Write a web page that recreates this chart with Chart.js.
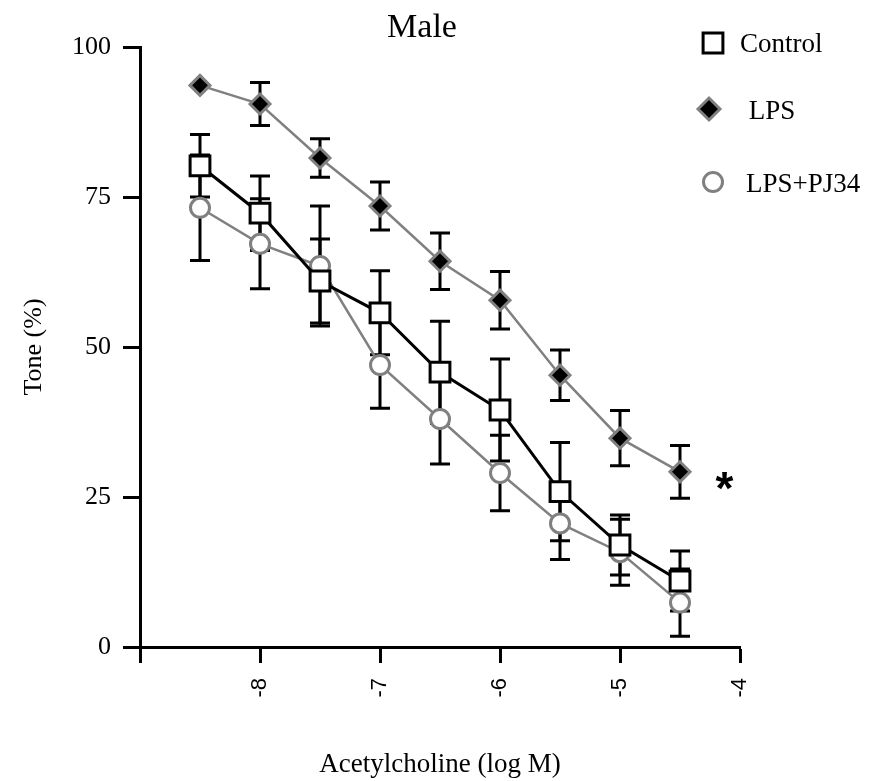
<!DOCTYPE html>
<html>
<head>
<meta charset="utf-8">
<title>Male - Acetylcholine response</title>
<script src="https://cdn.jsdelivr.net/npm/chart.js@4.4.0/dist/chart.umd.min.js"></script>
<style>
  html, body { margin: 0; padding: 0; background: #fff; }
  #chart { display: block; }
</style>
</head>
<body>
<canvas id="chart" width="871" height="781"></canvas>
<script>
const SERIF = "'Liberation Serif', 'Times New Roman', serif";
const SANS = "'Liberation Sans', Arial, sans-serif";
const GREY = '#808080';

// --- Data ---
const doses = [-8.5, -8, -7.5, -7, -6.5, -6, -5.5, -5, -4.5];
const controlMean = [80.2, 72.3, 61, 55.7, 45.8, 39.5, 25.9, 17, 11];
const controlSem  = [5.2, 6.2, 7, 7, 8.5, 8.5, 8.2, 5, 5];
const lpsMean = [93.6, 90.5, 81.5, 73.5, 64.3, 57.8, 45.3, 34.8, 29.2];
const lpsSem  = [0, 3.6, 3.2, 4, 4.7, 4.8, 4.2, 4.6, 4.4];
const pj34Mean = [73.2, 67.2, 63.5, 47, 38, 29, 20.6, 15.8, 7.4];
const pj34Sem  = [8.8, 7.5, 10, 7.2, 7.5, 6.3, 6, 5.5, 5.6];

const seriesNames = ['Control', ' LPS', 'LPS+PJ34'];
const xTicks = [-9, -8, -7, -6, -5, -4];
const yTicks = [0, 25, 50, 75, 100];
const chartTitle = 'Male';
const xTitle = 'Acetylcholine (log M)';
const yTitle = 'Tone (%)';
const sigMark = '*';
const sigAt = { x: -4.13, y: 27.6 };

const toPoints = (means) => doses.map((d, i) => ({ x: d, y: means[i] }));
const sems = [controlSem, lpsSem, pj34Sem];

// --- Error bars, drawn under the markers ---
const errorBars = {
    id: 'errorBars',
    beforeDatasetsDraw(chart) {
        const { ctx, scales: { x, y } } = chart;
        ctx.save();
        ctx.strokeStyle = '#000';
        ctx.lineWidth = 3;
        chart.data.datasets.forEach((ds, i) => {
            ds.data.forEach((p, j) => {
                if (!sems[i][j]) return;
                const px = x.getPixelForValue(p.x);
                const top = y.getPixelForValue(p.y + sems[i][j]);
                const bot = y.getPixelForValue(p.y - sems[i][j]);
                ctx.beginPath();
                ctx.moveTo(px, top); ctx.lineTo(px, bot);
                ctx.moveTo(px - 10, top); ctx.lineTo(px + 10, top);
                ctx.moveTo(px - 10, bot); ctx.lineTo(px + 10, bot);
                ctx.stroke();
            });
        });
        ctx.restore();
    }
};

// --- Title, legend and significance mark ---
const decorations = {
    id: 'decorations',
    afterDraw(chart) {
        const { ctx, scales: { x, y } } = chart;
        ctx.save();
        ctx.fillStyle = '#000';
        ctx.textAlign = 'center';
        ctx.textBaseline = 'alphabetic';
        ctx.font = `34px ${SERIF}`;
        ctx.fillText(chartTitle, 422, 37);

        // legend
        const rows = [
            { mx: 713, my: 43, tx: 740, ty: 52 },
            { mx: 709, my: 109, tx: 742, ty: 119 },
            { mx: 713, my: 182, tx: 746, ty: 192 }
        ];
        ctx.font = `27px ${SERIF}`;
        ctx.textAlign = 'left';
        chart.data.datasets.forEach((ds, i) => {
            const r = rows[i];
            ctx.fillStyle = ds.pointBackgroundColor;
            ctx.strokeStyle = ds.pointBorderColor;
            ctx.lineWidth = ds.pointBorderWidth;
            Chart.helpers.drawPoint(ctx, {
                pointStyle: ds.pointStyle,
                radius: ds.pointStyle === 'rectRot' ? ds.pointRadius + 1 : ds.pointRadius,
                rotation: 0,
                borderWidth: ds.pointBorderWidth
            }, r.mx, r.my);
            ctx.fillStyle = '#000';
            ctx.fillText(seriesNames[i], r.tx, r.ty);
        });

        // asterisk next to LPS curve
        ctx.font = `bold 46px ${SANS}`;
        ctx.textAlign = 'center';
        const m = ctx.measureText(sigMark);
        const cx = x.getPixelForValue(sigAt.x);
        const cy = y.getPixelForValue(sigAt.y);
        ctx.fillText(sigMark, cx, cy + (m.actualBoundingBoxAscent - m.actualBoundingBoxDescent) / 2);
        ctx.restore();
    }
};

new Chart(document.getElementById('chart'), {
    type: 'line',
    data: {
        datasets: [
            {
                label: seriesNames[0],
                data: toPoints(controlMean),
                borderColor: '#000',
                borderWidth: 3,
                pointStyle: 'rect',
                pointRadius: 14,
                pointBackgroundColor: '#fff',
                pointBorderColor: '#000',
                pointBorderWidth: 3
            },
            {
                label: seriesNames[1],
                data: toPoints(lpsMean),
                borderColor: GREY,
                borderWidth: 2.5,
                pointStyle: 'rectRot',
                pointRadius: 10,
                pointBackgroundColor: '#000',
                pointBorderColor: GREY,
                pointBorderWidth: 3
            },
            {
                label: seriesNames[2],
                data: toPoints(pj34Mean),
                borderColor: GREY,
                borderWidth: 2.5,
                pointStyle: 'circle',
                pointRadius: 9.5,
                pointBackgroundColor: '#fff',
                pointBorderColor: GREY,
                pointBorderWidth: 3
            }
        ]
    },
    options: {
        responsive: false,
        animation: false,
        devicePixelRatio: 1,
        layout: { padding: { left: 10, right: 131, top: 47, bottom: 0 } },
        plugins: {
            legend: { display: false },
            title: { display: false },
            tooltip: { enabled: false }
        },
        scales: {
            x: {
                type: 'linear',
                min: -9,
                max: -4,
                afterBuildTicks: (s) => { s.ticks = xTicks.map(v => ({ value: v })); },
                afterFit: (s) => { s.height = 134; },
                grid: { drawOnChartArea: false, tickLength: 16, tickWidth: 3, tickColor: '#000' },
                border: { display: true, color: '#000', width: 3 },
                ticks: {
                    autoSkip: false,
                    minRotation: 90,
                    maxRotation: 90,
                    padding: 15,
                    color: '#000',
                    font: { family: SANS, size: 22 },
                    callback: (v) => (v === -9 ? '' : String(v))
                },
                title: {
                    display: true,
                    text: xTitle,
                    color: '#000',
                    font: { family: SERIF, size: 27 },
                    padding: { top: 0, bottom: 0 }
                }
            },
            y: {
                min: 0,
                max: 100,
                afterBuildTicks: (s) => { s.ticks = yTicks.map(v => ({ value: v })); },
                afterFit: (s) => { s.width = 130; },
                grid: { drawOnChartArea: false, tickLength: 17, tickWidth: 3, tickColor: '#000' },
                border: { display: true, color: '#000', width: 3 },
                ticks: {
                    padding: 12,
                    color: '#000',
                    font: { family: SERIF, size: 26 }
                },
                title: {
                    display: true,
                    text: yTitle,
                    color: '#000',
                    font: { family: SERIF, size: 26 },
                    padding: { top: 9, bottom: 0 }
                }
            }
        }
    },
    plugins: [errorBars, decorations]
});
</script>
</body>
</html>
